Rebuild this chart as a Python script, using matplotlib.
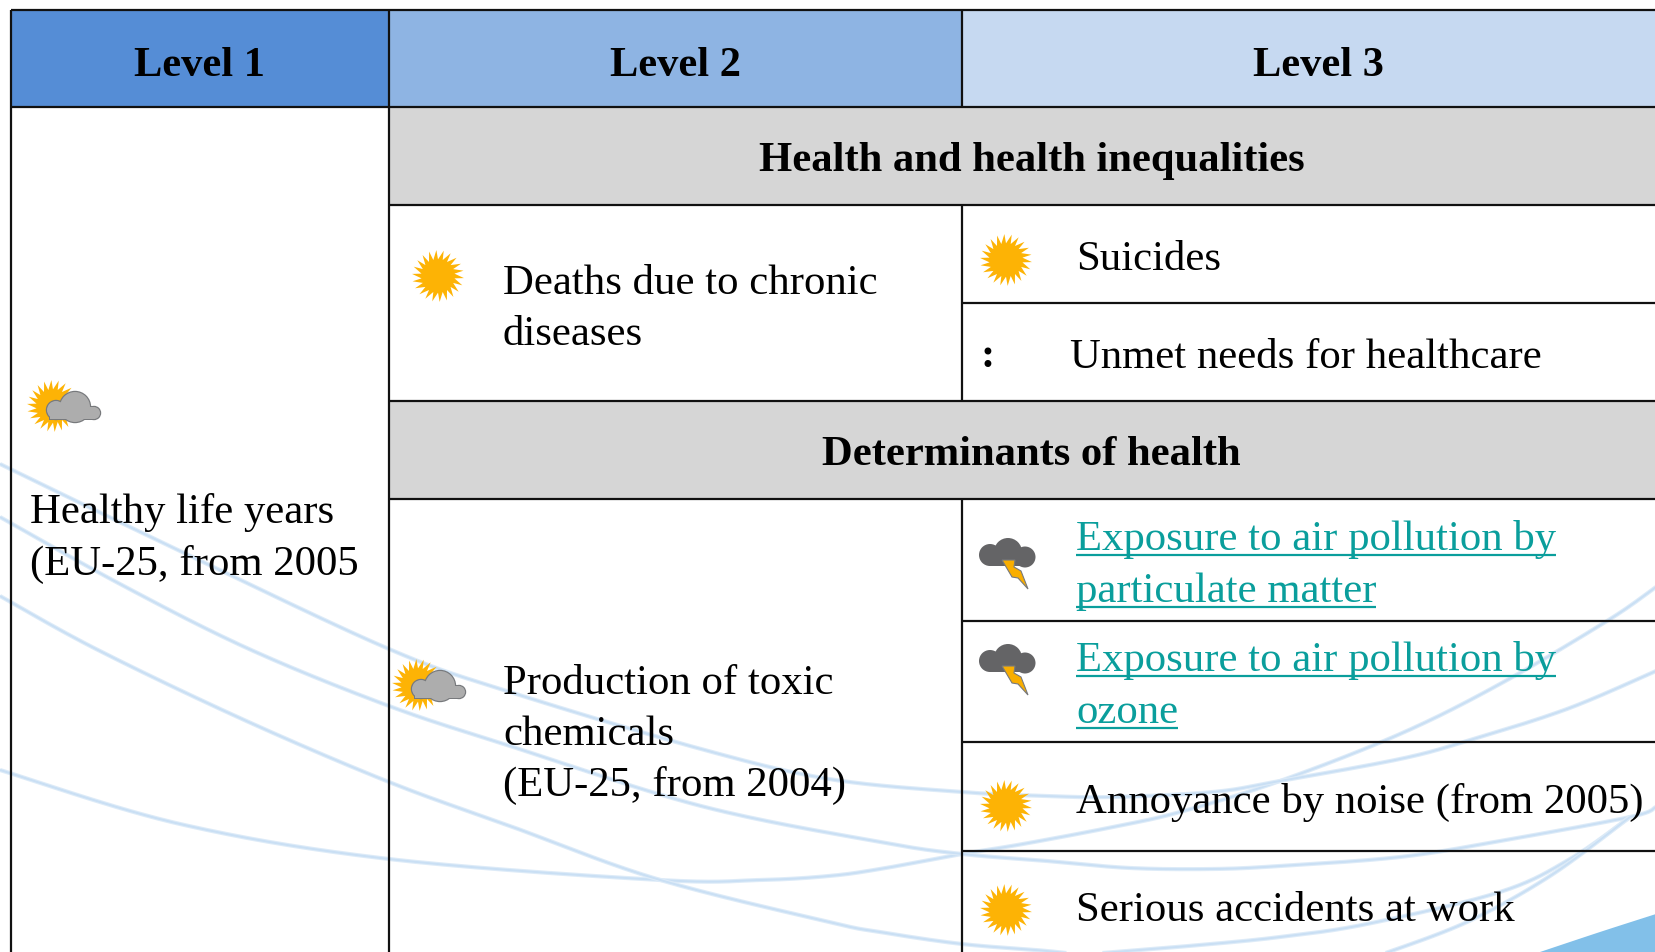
import numpy as np
import matplotlib.pyplot as plt
from matplotlib.patches import Rectangle, Circle, Polygon

plt.rcParams['font.family'] = ['Liberation Serif', 'DejaVu Serif']

# table layout in pixels of the 1656x953 picture
col_x = [11, 389, 962, 1656]
header_y = [11, 108]
header_labels = ['Level 1', 'Level 2', 'Level 3']
header_x = [200, 676, 1318]
header_colors = ['#558DD6', '#8EB4E3', '#C6D9F1']

section_labels = ['Health and health inequalities', 'Determinants of health']
section_x = [1032, 1031]
section_y = [(108, 206), (402, 500)]

# text, x, baseline y
plain_text = [
    ('Healthy life years', 30, 523),
    ('(EU-25, from 2005', 30, 575),
    ('Deaths due to chronic', 503, 294),
    ('diseases', 503, 345),
    ('Production of toxic', 503, 694),
    ('chemicals', 503, 745),
    ('(EU-25, from 2004)', 503, 796),
    ('Suicides', 1076, 270),
    ('Unmet needs for healthcare', 1070, 368),
    ('Annoyance by noise (from 2005)', 1076, 813),
    ('Serious accidents at work', 1076, 921),
]
link_text = [
    ('Exposure to air pollution by', 1076, 550),
    ('particulate matter', 1076, 602),
    ('Exposure to air pollution by', 1076, 671),
    ('ozone', 1076, 723),
]

sun_pos = [(438, 277), (1006, 261), (1006, 807), (1006, 911)]
sun_cloud_pos = [(53, 407), (418, 686)]
storm_pos = [(1008, 553), (1008, 659)]

# background swooshes
swooshes = [
    [(0, 771), (180, 825), (389, 860), (660, 881), (760, 881), (829, 877), (880, 870), (962, 855), (1023, 845), (1113, 828), (1180, 813), (1280, 782), (1400, 735), (1500, 685), (1607, 622), (1656, 588)],
    [(0, 465), (180, 552), (389, 650), (510, 693), (701, 750), (829, 780), (962, 793), (1047, 797), (1113, 798), (1213, 793), (1280, 782), (1400, 760), (1467, 742), (1567, 710), (1656, 672)],
    [(0, 518), (120, 585), (249, 650), (389, 707), (510, 747), (701, 807), (880, 843), (962, 855), (1047, 862), (1130, 869), (1213, 870), (1280, 867), (1400, 858), (1500, 842), (1630, 818), (1656, 808)],
    [(0, 597), (96, 650), (242, 720), (389, 783), (510, 827), (657, 880), (829, 923), (880, 933), (962, 945), (1047, 952), (1100, 958)],
    [(1090, 955), (1200, 946), (1280, 938), (1367, 925), (1500, 893), (1570, 860), (1630, 818)],
    [(1383, 955), (1467, 923), (1550, 877), (1630, 818)],
]
wedge = [(1540, 953), (1600, 933), (1656, 915), (1656, 953)]


def smooth(pts, n=30):
    # catmull-rom through the read points
    p = np.array([pts[0]] + list(pts) + [pts[-1]], dtype=float)
    out = []
    for i in range(1, len(p) - 2):
        t = np.linspace(0, 1, n)[:, None]
        out.append(0.5 * (2 * p[i] + (p[i + 1] - p[i - 1]) * t
                          + (2 * p[i - 1] - 5 * p[i] + 4 * p[i + 1] - p[i + 2]) * t ** 2
                          + (3 * p[i] - p[i - 1] - 3 * p[i + 1] + p[i + 2]) * t ** 3))
    return np.vstack(out)


def draw_sun(ax, cx, cy, r=26, z=5):
    # spiky disc, the tips lean a little to one side
    n = 22
    a = np.linspace(0, 2 * np.pi, 2 * n, endpoint=False)
    rr = np.where(np.arange(2 * n) % 2 == 0, r, r * 0.64)
    a = a + np.where(np.arange(2 * n) % 2 == 0, 0.08, 0)
    ax.add_patch(Polygon(np.c_[cx + rr * np.cos(a), cy + rr * np.sin(a)], color='#FDB305', lw=0, zorder=z))


def draw_cloud(ax, x0, y0, fill, edge, z=6):
    # x0, y0 = left and bottom of the grey cloud, 55 px wide
    parts = [(11, -9, 9), (30, -12, 15), (49, -6, 6)]
    for grow, col, zz in [(1.2, edge, z), (0, fill, z + 1)]:
        for dx, dy, r in parts:
            ax.add_patch(Circle((x0 + dx, y0 + dy), r + grow, color=col, lw=0, zorder=zz))
        ax.add_patch(Rectangle((x0 + 5 - grow, y0 - 12 - grow), 45 + 2 * grow, 12 + 2 * grow, color=col, lw=0, zorder=zz))


def draw_storm(ax, cx, cy, z=6):
    for dx, dy, r in [(-18, 3, 11), (0, 0, 14), (17, 5, 10.5)]:
        ax.add_patch(Circle((cx + dx, cy + dy), r, color='#646466', lw=0, zorder=z))
    ax.add_patch(Rectangle((cx - 18, cy - 4), 35, 18, color='#646466', lw=0, zorder=z))
    ax.add_patch(Polygon([(cx - 6, cy + 8), (cx + 7, cy + 8), (cx + 6, cy + 15), (cx + 13, cy + 19),
                          (cx + 20, cy + 37), (cx + 10, cy + 26), (cx + 4, cy + 25)],
                         facecolor='#F9AE00', edgecolor='#77797C', lw=0.8, zorder=z + 1))


fig = plt.figure(figsize=(16.56, 9.53), dpi=100)
ax = fig.add_axes([0, 0, 1, 1])
ax.set_xlim(0, 1656)
ax.set_ylim(953, 0)
ax.axis('off')

for pts in swooshes:
    xy = smooth(pts)
    ax.plot(xy[:, 0], xy[:, 1], color='#DDEBF8', lw=3.0, solid_capstyle='butt', zorder=1)
    ax.plot(xy[:, 0], xy[:, 1], color='#C9DFF4', lw=1.4, solid_capstyle='butt', zorder=1)
xy = smooth(wedge[:3])
ax.add_patch(Polygon(np.vstack([xy, wedge[3:]]), color='#82C0E9', lw=0, zorder=1))

# fills
for i in range(3):
    ax.add_patch(Rectangle((col_x[i], header_y[0]), col_x[i + 1] - col_x[i], header_y[1] - header_y[0],
                           color=header_colors[i], lw=0, zorder=2))
    ax.text(header_x[i], 61, header_labels[i], fontsize=30.5, fontweight='bold', ha='center',
            va='center_baseline', zorder=4)
for label, x, (y0, y1) in zip(section_labels, section_x, section_y):
    ax.add_patch(Rectangle((col_x[1], y0), col_x[3] - col_x[1], y1 - y0, color='#D6D6D6', lw=0, zorder=2))
    ax.text(x, (y0 + y1) / 2, label, fontsize=30.7, fontweight='bold', ha='center',
            va='center_baseline', zorder=4)

# grid lines
line = dict(color='#111111', lw=1.6, zorder=3, solid_capstyle='butt')
ax.plot([11, 1656], [11, 11], **line)
ax.plot([11, 1656], [108, 108], **line)
ax.plot([11, 11], [11, 953], **line)
ax.plot([389, 389], [11, 953], **line)
ax.plot([962, 962], [11, 108], **line)
ax.plot([962, 962], [206, 402], **line)
ax.plot([962, 962], [500, 953], **line)
for y in [206, 402, 500]:
    ax.plot([389, 1656], [y, y], **line)
for y in [304, 622, 743, 852]:
    ax.plot([962, 1656], [y, y], **line)

for s, x, y in plain_text:
    ax.text(x, y, s, fontsize=30.8, ha='left', va='baseline', color='black', zorder=4)
ax.text(988, 353, ':', fontsize=30.8, fontweight='bold', ha='center', va='center_baseline', zorder=4)

fig.canvas.draw()
r = fig.canvas.get_renderer()
for s, x, y in link_text:
    t = ax.text(x, y, s, fontsize=30.8, ha='left', va='baseline', color='#0A9E9C', zorder=4)
    ax.plot([x, t.get_window_extent(r).x1], [y + 6, y + 6], color='#0A9E9C', lw=1.6, zorder=4,
            solid_capstyle='butt')

for cx, cy in sun_pos:
    draw_sun(ax, cx, cy)
for cx, cy in sun_cloud_pos:
    draw_sun(ax, cx, cy)
    draw_cloud(ax, cx - 8, cy + 13, '#ADADAD', '#77797C')
for cx, cy in storm_pos:
    draw_storm(ax, cx, cy)

plt.savefig('out.png', dpi=100)
